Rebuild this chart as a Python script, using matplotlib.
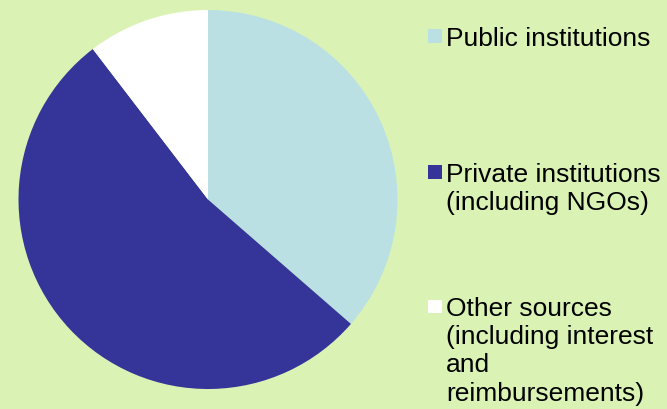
import matplotlib
matplotlib.use("Agg")
import matplotlib.pyplot as plt
from matplotlib.patches import Rectangle

plt.rcParams['font.family'] = ['Liberation Sans', 'DejaVu Sans']

# data (percent of total)
labels = ["Public institutions",
          "Private institutions\n(including NGOs)",
          "Other sources\n(including interest\nand\nreimbursements)"]
shares = [36.4, 53.2, 10.4]
colors = ["#bae0e3", "#343499", "#ffffff"]
bg = "#daf3b4"

W, H = 667, 410
fig = plt.figure(figsize=(W / 100, H / 100), dpi=100)
fig.patch.set_facecolor(bg)

# pie: centre (208, 200.5) px, radius 189.5 px
cx, cy, r = 208, 200.5, 189.5
ax = fig.add_axes([(cx - r) / W, (H - cy - r) / H, 2 * r / W, 2 * r / H])
ax.pie(shares, colors=colors, startangle=90, counterclock=False,
       wedgeprops=dict(linewidth=0))
ax.set_xlim(-1, 1)
ax.set_ylim(-1, 1)
ax.set_aspect('equal')
ax.axis('off')

# legend drawn by hand (first baseline of each entry, px from top)
baselines = [45.7, 181.7, 316]
line_step = 28.2
for lab, col, b in zip(labels, colors, baselines):
    fig.patches.append(Rectangle((428.3 / W, (H - b + 1.7) / H), 13.5 / W, 13.8 / H,
                                 transform=fig.transFigure, facecolor=col,
                                 edgecolor='none'))
    for i, line in enumerate(lab.split("\n")):
        fig.text(446 / W, (H - b - i * line_step) / H, line, fontsize=19,
                 color='black', ha='left', va='baseline')

fig.savefig("out.png", dpi=100, facecolor=bg)
